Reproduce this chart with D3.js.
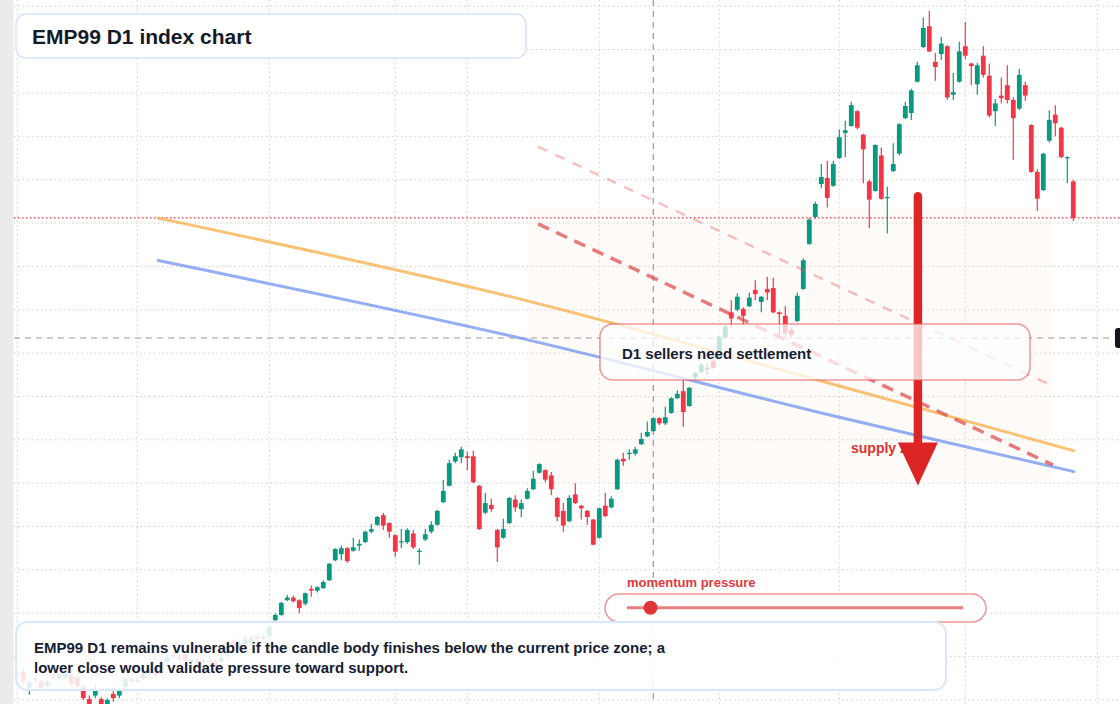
<!DOCTYPE html>
<html>
<head>
<meta charset="utf-8">
<script src="https://cdn.jsdelivr.net/npm/d3@7"></script>
<style>
  html, body { margin: 0; padding: 0; background: #fff; overflow: hidden; }
  svg { display: block; font-family: "Liberation Sans", Arial, sans-serif; }
</style>
</head>
<body>
<div id="chart"></div>
<script>
// daily candles, oldest first
var candleOpen = [
  4028,4032,4014,4024,4021,4017,4026,4025,4026,4028,
  4026,4015,4001,4005,4001,3993,4007,4005,4015,4024,
  4023,4025,4031,4037,4033,4044,4052,4049,4052,4043,
  4046,4045,4044,4045,4044,4051,4067,4060,4064,4066,
  4073,4071,4074,4092,4098,4115,4118,4115,4111,4128,
  4126,4129,4138,4161,4168,4175,4172,4178,4182,4194,
  4202,4213,4204,4190,4182,4182,4192,4171,4185,4194,
  4202,4228,4247,4275,4280,4281,4281,4247,4216,4225,
  4196,4187,4204,4231,4220,4232,4243,4262,4265,4259,
  4233,4218,4206,4237,4224,4218,4208,4187,4224,4222,
  4243,4278,4284,4284,4295,4304,4310,4325,4319,4331,
  4348,4356,4339,4372,4378,4382,4391,4394,4418,4447,
  4450,4451,4454,4473,4459,4474,4475,4447,4443,4427,
  4437,4474,4526,4557,4595,4602,4593,4625,4654,4662,
  4679,4652,4598,4587,4628,4579,4610,4630,4671,4677,
  4713,4753,4777,4736,4745,4754,4698,4713,4754,4734,
  4710,4743,4720,4679,4697,4709,4692,4682,4709,4663,
  4609,4588,4645,4675,4660,4625,4598
];
var candleHigh = [
  4033,4037,4022,4026,4023,4023,4031,4031,4034,4030,
  4029,4018,4005,4018,4003,4002,4011,4014,4026,4026,
  4026,4033,4039,4040,4045,4052,4055,4053,4055,4049,
  4048,4049,4051,4047,4052,4064,4070,4068,4073,4074,
  4076,4076,4086,4100,4113,4121,4120,4116,4124,4132,
  4131,4138,4158,4175,4178,4176,4187,4185,4195,4203,
  4212,4216,4205,4191,4197,4198,4196,4175,4197,4206,
  4219,4254,4277,4285,4292,4286,4287,4248,4239,4232,
  4197,4209,4234,4236,4231,4244,4264,4273,4266,4263,
  4234,4227,4236,4250,4225,4219,4209,4222,4239,4235,
  4278,4285,4289,4292,4308,4321,4326,4326,4338,4349,
  4357,4369,4361,4378,4388,4388,4393,4420,4432,4461,
  4469,4453,4470,4484,4466,4488,4487,4448,4454,4430,
  4470,4509,4556,4575,4618,4622,4622,4658,4668,4690,
  4680,4653,4600,4641,4637,4592,4642,4665,4690,4705,
  4736,4787,4795,4746,4765,4755,4723,4759,4782,4735,
  4735,4754,4734,4693,4718,4732,4695,4728,4713,4664,
  4612,4631,4680,4686,4661,4627,4600
];
var candleLow = [
  4025,4018,4006,4021,4011,4015,4024,4023,4024,4016,
  4014,4000,3986,4002,3988,3988,3998,4002,4013,4020,
  4020,4023,4029,4026,4031,4041,4047,4045,4043,4040,
  4040,4041,4041,4038,4041,4048,4059,4058,4062,4063,
  4068,4069,4071,4090,4097,4114,4112,4100,4109,4119,
  4124,4128,4137,4160,4161,4158,4171,4172,4181,4192,
  4201,4196,4187,4165,4175,4180,4174,4156,4183,4192,
  4201,4227,4246,4273,4273,4265,4250,4196,4214,4217,
  4159,4186,4203,4217,4211,4231,4242,4261,4251,4236,
  4206,4194,4205,4226,4208,4202,4178,4186,4211,4221,
  4242,4270,4277,4282,4294,4303,4309,4317,4317,4330,
  4347,4315,4338,4369,4377,4375,4382,4393,4416,4429,
  4448,4432,4453,4461,4447,4461,4446,4419,4419,4418,
  4436,4473,4525,4555,4590,4568,4592,4624,4626,4661,
  4658,4596,4544,4586,4577,4538,4609,4628,4670,4669,
  4712,4752,4747,4714,4738,4692,4692,4712,4739,4709,
  4698,4718,4672,4662,4688,4688,4623,4680,4691,4608,
  4564,4587,4643,4650,4625,4596,4552
];
var candleClose = [
  4030,4021,4020,4023,4014,4021,4025,4029,4032,4018,
  4016,4002,3993,4011,3993,4000,4002,4011,4024,4022,
  4022,4031,4037,4029,4043,4049,4051,4047,4045,4047,
  4043,4044,4045,4040,4049,4062,4061,4066,4070,4071,
  4071,4073,4084,4098,4112,4118,4114,4106,4123,4126,
  4130,4136,4157,4174,4175,4160,4176,4180,4194,4197,
  4211,4201,4194,4171,4183,4196,4176,4172,4191,4202,
  4218,4241,4273,4281,4289,4279,4251,4197,4227,4220,
  4176,4197,4233,4222,4227,4241,4255,4272,4254,4243,
  4211,4201,4233,4227,4221,4211,4179,4221,4212,4232,
  4277,4275,4285,4289,4301,4309,4325,4319,4326,4348,
  4353,4332,4360,4377,4386,4383,4383,4419,4431,4440,
  4465,4443,4464,4468,4465,4470,4447,4445,4423,4421,
  4466,4507,4554,4572,4603,4579,4618,4649,4657,4686,
  4660,4635,4577,4640,4578,4580,4618,4664,4685,4703,
  4732,4775,4748,4730,4757,4695,4701,4748,4743,4731,
  4732,4721,4674,4688,4694,4692,4671,4721,4697,4609,
  4578,4630,4669,4665,4626,4626,4556
];

// month grid (candle index) and price range
var gridIndex = [0, 20, 42, 63, 75, 97, 117, 137, 158, 180];
var priceRange = [4000, 4800];

// drawings, as [candle index, price]
var orangeCurve = [[23.3, 4556], [84, 4462], [137, 4362], [176.3, 4287]];
var blueCurve = [[23.3, 4507], [84, 4417], [134, 4331], [176.3, 4263]];
var sellDash = [[86.8, 4549], [172.6, 4271]];
var sellDashLight = [[86.8, 4638], [172.6, 4362]];
var zoneIndex = [84.9, 172.5];
var zonePrice = [4251, 4568];
var arrowIndex = 150.1;
var arrowPrice = [4581, 4297];
var crossIndex = 106;
var crossPrice = 4417.4;
var momentumValue = 0.07;

var titleText = 'EMP99 D1 index chart';
var boxText = 'D1 sellers need settlement';
var zoneText = 'supply zone';
var momentumText = 'momentum pressure';
var noteLines = [
  'EMP99 D1 remains vulnerable if the candle body finishes below the current price zone; a',
  'lower close would validate pressure toward support.'
];

var width = 1120, height = 704;
var green = '#089981', red = '#f23645';

var svg = d3.select('#chart')
  .append('svg')
  .attr('width', width)
  .attr('height', height);

var x = d3.scaleLinear().domain([0, 176]).range([17.3, 1073.3]);
var y = d3.scaleLinear().domain(priceRange).range([699.9, 6.3]);

//背景和网格
svg.append('rect').attr('width', width).attr('height', height).attr('fill', '#fff');
svg.append('rect').attr('x', 0).attr('y', 0).attr('width', 13.5).attr('height', height).attr('fill', '#ebebeb');

var grid = svg.append('g')
  .attr('stroke', '#cfcfcf')
  .attr('stroke-width', 1)
  .attr('stroke-dasharray', '1.5,3');
grid.selectAll('.vg')
  .data(gridIndex)
  .enter().append('line')
  .attr('x1', function (d) { return x(d); })
  .attr('x2', function (d) { return x(d); })
  .attr('y1', 0).attr('y2', height);
grid.selectAll('.hg')
  .data(y.ticks(16))
  .enter().append('line')
  .attr('x1', 14).attr('x2', width)
  .attr('y1', function (d) { return y(d); })
  .attr('y2', function (d) { return y(d); });

// supply zone
svg.append('rect')
  .attr('x', x(zoneIndex[0]))
  .attr('y', y(zonePrice[1]))
  .attr('width', x(zoneIndex[1]) - x(zoneIndex[0]))
  .attr('height', y(zonePrice[0]) - y(zonePrice[1]))
  .attr('fill', '#f4e2d2')
  .attr('fill-opacity', 0.13);

// crosshair
svg.append('line')
  .attr('x1', 14).attr('x2', 1114)
  .attr('y1', y(crossPrice)).attr('y2', y(crossPrice))
  .attr('stroke', '#9a9a9a').attr('stroke-width', 1.2)
  .attr('stroke-dasharray', '6,5');
svg.append('line')
  .attr('x1', x(crossIndex)).attr('x2', x(crossIndex))
  .attr('y1', 0).attr('y2', height)
  .attr('stroke', '#9a9a9a').attr('stroke-width', 1.2)
  .attr('stroke-dasharray', '6,5');

// current price line
var lastClose = candleClose[candleClose.length - 1];
svg.append('line')
  .attr('x1', 14).attr('x2', width)
  .attr('y1', y(lastClose)).attr('y2', y(lastClose))
  .attr('stroke', red).attr('stroke-width', 1.3)
  .attr('stroke-dasharray', '1.5,2.5');

// candles
var candles = svg.append('g').selectAll('g')
  .data(candleOpen.map(function (o, i) {
    return { i: i, o: o, h: candleHigh[i], l: candleLow[i], c: candleClose[i] };
  }))
  .enter().append('g');
candles.append('line')
  .attr('x1', function (d) { return x(d.i); })
  .attr('x2', function (d) { return x(d.i); })
  .attr('y1', function (d) { return y(d.h); })
  .attr('y2', function (d) { return y(d.l); })
  .attr('stroke', function (d) { return d.c >= d.o ? green : red; })
  .attr('stroke-width', 1.2);
candles.append('rect')
  .attr('x', function (d) { return x(d.i) - 2.4; })
  .attr('width', 4.8)
  .attr('y', function (d) { return y(Math.max(d.o, d.c)); })
  .attr('height', function (d) { return Math.max(1.2, Math.abs(y(d.o) - y(d.c))); })
  .attr('fill', function (d) { return d.c >= d.o ? green : red; });

// trend curves
var curve = d3.line()
  .x(function (d) { return x(d[0]); })
  .y(function (d) { return y(d[1]); })
  .curve(d3.curveCatmullRom);
svg.append('path').datum(orangeCurve).attr('d', curve)
  .attr('fill', 'none').attr('stroke', '#f9ad45').attr('stroke-opacity', 0.75).attr('stroke-width', 3);
svg.append('path').datum(blueCurve).attr('d', curve)
  .attr('fill', 'none').attr('stroke', '#6f93f0').attr('stroke-opacity', 0.75).attr('stroke-width', 3);

var straight = d3.line()
  .x(function (d) { return x(d[0]); })
  .y(function (d) { return y(d[1]); });
svg.append('path').datum(sellDashLight).attr('d', straight)
  .attr('fill', 'none').attr('stroke', '#e85b5b').attr('stroke-opacity', 0.38)
  .attr('stroke-width', 2.5).attr('stroke-dasharray', '10,9');
svg.append('path').datum(sellDash).attr('d', straight)
  .attr('fill', 'none').attr('stroke', '#e0474b').attr('stroke-opacity', 0.72)
  .attr('stroke-width', 3.5).attr('stroke-dasharray', '12,8');

// supply label and arrow
svg.append('text')
  .attr('x', 851).attr('y', 453)
  .attr('font-size', 14).attr('font-weight', 'bold')
  .attr('fill', '#e03030')
  .text(zoneText);
var ax = x(arrowIndex);
svg.append('line')
  .attr('x1', ax).attr('x2', ax)
  .attr('y1', y(arrowPrice[0])).attr('y2', y(arrowPrice[1]) + 4)
  .attr('stroke', '#dc2626').attr('stroke-width', 8.5).attr('stroke-linecap', 'round');
svg.append('path')
  .attr('d', 'M' + (ax - 20) + ',' + y(arrowPrice[1]) + 'L' + (ax + 20) + ',' + y(arrowPrice[1]) +
    'L' + ax + ',' + (y(arrowPrice[1]) + 43) + 'Z')
  .attr('fill', '#dc2626');

// middle label box
svg.append('rect')
  .attr('x', 600).attr('y', 324).attr('width', 430).attr('height', 56).attr('rx', 13)
  .attr('fill', '#fff').attr('fill-opacity', 0.74)
  .attr('stroke', '#e25555').attr('stroke-opacity', 0.6).attr('stroke-width', 1.5);
svg.append('text')
  .attr('x', 622).attr('y', 359)
  .attr('font-size', 15).attr('font-weight', 'bold').attr('fill', '#172033')
  .text(boxText);

// momentum slider
svg.append('text')
  .attr('x', 627).attr('y', 587)
  .attr('font-size', 13).attr('font-weight', 'bold').attr('fill', '#e0393e')
  .text(momentumText);
svg.append('rect')
  .attr('x', 605).attr('y', 594).attr('width', 381).attr('height', 28).attr('rx', 14)
  .attr('fill', '#fff')
  .attr('stroke', '#e25555').attr('stroke-opacity', 0.6).attr('stroke-width', 1.5);
var slider = d3.scaleLinear().domain([0, 1]).range([627, 963]);
svg.append('line')
  .attr('x1', slider(0)).attr('x2', slider(1))
  .attr('y1', 607.8).attr('y2', 607.8)
  .attr('stroke', '#e46a6a').attr('stroke-opacity', 0.85).attr('stroke-width', 3);
svg.append('circle')
  .attr('cx', slider(momentumValue)).attr('cy', 607.8).attr('r', 7)
  .attr('fill', '#e03535');

// title box
svg.append('rect')
  .attr('x', 16).attr('y', 14).attr('width', 510).attr('height', 44).attr('rx', 10)
  .attr('fill', '#fff').attr('stroke', '#d6e4fb').attr('stroke-width', 1.5);
svg.append('text')
  .attr('x', 32).attr('y', 43.5)
  .attr('font-size', 21).attr('font-weight', 'bold').attr('fill', '#131a2a')
  .text(titleText);

// bottom note
svg.append('rect')
  .attr('x', 16).attr('y', 622).attr('width', 930).attr('height', 68).attr('rx', 12)
  .attr('fill', '#fff').attr('fill-opacity', 0.86)
  .attr('stroke', '#d9e6fb').attr('stroke-width', 2);
svg.append('g').selectAll('text')
  .data(noteLines)
  .enter().append('text')
  .attr('x', 34)
  .attr('y', function (d, i) { return 653 + i * 20; })
  .attr('font-size', 15).attr('font-weight', 'bold').attr('fill', '#172033')
  .text(function (d) { return d; });

// crosshair price tag, cut by the right edge as in the source chart
svg.append('rect')
  .attr('x', 1115).attr('y', y(crossPrice) - 10).attr('width', 50).attr('height', 20).attr('rx', 3)
  .attr('fill', '#131722');
</script>
</body>
</html>
